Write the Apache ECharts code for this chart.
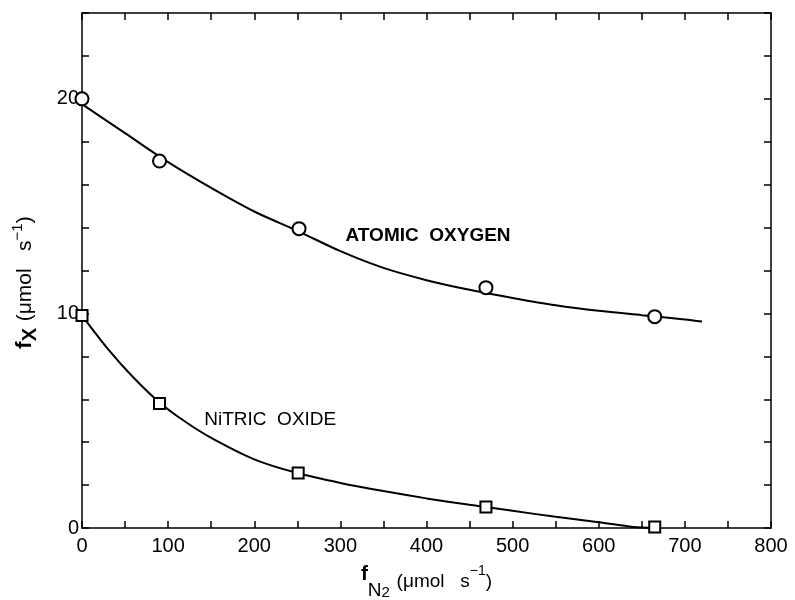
<!DOCTYPE html>
<html>
<head>
<meta charset="utf-8">
<script src="https://cdn.jsdelivr.net/npm/echarts@6/dist/echarts.min.js"></script>
<style>
html, body { margin: 0; padding: 0; background: #fff; }
#chart { width: 795px; height: 600px; }
</style>
</head>
<body>
<div id="chart"></div>
<script>
var dom = document.getElementById("chart");
var myChart = echarts.init(dom);

// measured points
var oxygenPoints = [[0, 20.0], [90, 17.1], [252, 13.95], [469, 11.2], [665, 9.85]];
var nitricPoints = [[0, 9.9], [90, 5.8], [251, 2.56], [469, 0.98], [665, 0.05]];

// fitted curves
var oxygenCurve = [[0, 19.75], [50, 18.4], [100, 17.05], [150, 15.85], [200, 14.75], [250, 13.85],
    [300, 12.9], [350, 12.12], [400, 11.55], [450, 11.1], [500, 10.72], [550, 10.38],
    [600, 10.12], [650, 9.92], [700, 9.72], [720, 9.62]];
var nitricCurve = [[0, 9.9], [30, 8.35], [60, 7.0], [90, 5.85], [120, 4.95], [150, 4.2], [200, 3.2],
    [250, 2.56], [300, 2.1], [350, 1.72], [400, 1.38], [450, 1.08], [500, 0.8], [550, 0.52],
    [600, 0.27], [640, 0.05], [665, 0.0]];

var xTicks = [0, 100, 200, 300, 400, 500, 600, 700, 800];
var yTicks = [0, 10, 20];

var ink = '#000';
var font = 'Liberation Sans';

function axisBase(pos, showLabel, labels) {
    return {
        type: 'value',
        position: pos,
        axisLine: {show: true, onZero: false, lineStyle: {color: ink, width: 1.5}},
        axisTick: {show: true, inside: true, length: 7, lineStyle: {color: ink, width: 1.5}},
        splitLine: {show: false},
        axisLabel: {
            show: showLabel,
            color: ink,
            fontFamily: font,
            fontSize: 20,
            formatter: function (v) { return labels.indexOf(v) >= 0 ? String(v) : ''; }
        }
    };
}

var xBottom = axisBase('bottom', true, xTicks);
xBottom.min = 0; xBottom.max = 800; xBottom.interval = 50;
xBottom.axisLabel.margin = 8;
xBottom.name = '{f|f}{sub|N}{sub2|2}  {p|(μmol   s}{sup|−1}{p|)}';
xBottom.nameLocation = 'middle';
xBottom.nameGap = 36;
xBottom.nameTextStyle = {
    color: ink, fontFamily: font,
    rich: {
        f: {fontSize: 21, color: ink, fontFamily: font, fontWeight: 'bold', lineHeight: 36, verticalAlign: 'top'},
        sub: {fontSize: 19, color: ink, fontFamily: font, lineHeight: 36, verticalAlign: 'bottom'},
        sub2: {fontSize: 15, color: ink, fontFamily: font, lineHeight: 36, verticalAlign: 'bottom'},
        p: {fontSize: 19, color: ink, fontFamily: font, lineHeight: 36, verticalAlign: 'middle'},
        sup: {fontSize: 14, color: ink, fontFamily: font, lineHeight: 36, verticalAlign: 'top'}
    }
};

var xTop = axisBase('top', false, []);
xTop.min = 0; xTop.max = 800; xTop.interval = 50;

var yLeft = axisBase('left', true, yTicks);
yLeft.min = 0; yLeft.max = 24; yLeft.interval = 2;
yLeft.axisLabel.margin = 3;
yLeft.name = '{f|f}{sub|X}  {p|(μmol   s}{sup|−1}{p|)}';
yLeft.nameLocation = 'middle';
yLeft.nameGap = 42;
yLeft.nameRotate = 90;
yLeft.nameTextStyle = {
    color: ink, fontFamily: font,
    padding: [0, 24, 0, 0],
    rich: {
        f: {fontSize: 22, color: ink, fontFamily: font, fontWeight: 'bold', lineHeight: 30, verticalAlign: 'middle'},
        sub: {fontSize: 20, color: ink, fontFamily: font, fontWeight: 'bold', lineHeight: 30, verticalAlign: 'bottom'},
        p: {fontSize: 21, color: ink, fontFamily: font, lineHeight: 30, verticalAlign: 'middle'},
        sup: {fontSize: 15, color: ink, fontFamily: font, lineHeight: 30, verticalAlign: 'top'}
    }
};

var yRight = axisBase('right', false, []);
yRight.min = 0; yRight.max = 24; yRight.interval = 2;

function curve(data) {
    return {
        type: 'line', data: data, smooth: 0.3, showSymbol: false, symbol: 'none',
        lineStyle: {color: ink, width: 2}, silent: true, z: 2
    };
}
function markers(data, symbol, size) {
    return {
        type: 'scatter', data: data, symbol: symbol, symbolSize: size,
        itemStyle: {color: '#fff', borderColor: ink, borderWidth: 2, opacity: 1}, z: 3
    };
}
function tag(text, coord, weight) {
    return {
        type: 'scatter', data: [coord], symbolSize: 0, silent: true,
        itemStyle: {opacity: 1},
        label: {
            show: true, position: 'right', distance: 0, formatter: text,
            color: ink, fontFamily: font, fontSize: 19, fontWeight: weight
        }
    };
}

option = {
    backgroundColor: '#fff',
    animation: false,
    grid: {left: 82, right: 24, top: 13, bottom: 72, containLabel: false, outerBoundsMode: 'none'},
    xAxis: [xBottom, xTop],
    yAxis: [yLeft, yRight],
    series: [
        curve(oxygenCurve),
        curve(nitricCurve),
        markers(oxygenPoints, 'circle', 13),
        markers(nitricPoints, 'rect', 11),
        tag('ATOMIC  OXYGEN', [306, 13.6], 'bold'),
        tag('NiTRIC  OXIDE', [142, 5.05], 'normal')
    ]
};

if (option && typeof option === "object") {
    myChart.setOption(option, true);
}
</script>
</body>
</html>
